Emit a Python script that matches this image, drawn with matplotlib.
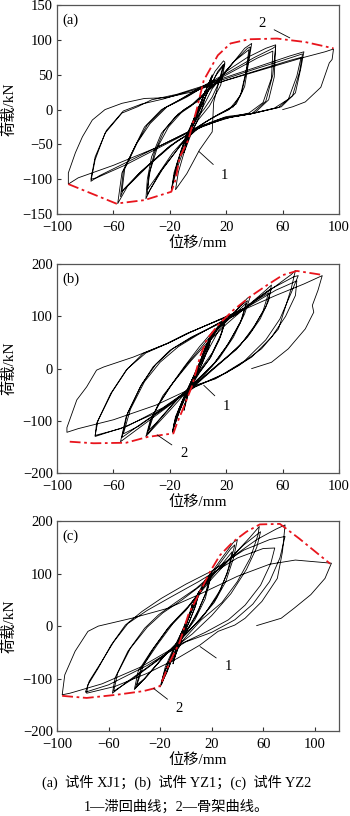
import numpy as np
import matplotlib.pyplot as plt

plt.rcParams['font.family'] = ['Liberation Serif', 'Noto Sans CJK SC']
plt.rcParams['axes.unicode_minus'] = True

# ---- (a) XJ1 : hysteresis path (disp mm, load kN)
a_path = [
    (0, 0), (3, 15), (5, 27), (3, 14), (0, 2), (-3, -14), (-5, -30), (-3, -16), (0, 0),
    (4, 20), (8, 40), (10, 50), (8, 32), (4, 12), (0, -6), (-5, -30), (-9, -55), (-10, -62), (-8, -42), (-4, -18), (0, 2),
    (5, 24), (9, 45), (10, 48), (7, 26), (2, 6), (-4, -22), (-9, -52), (-10, -58), (-7, -35), (-2, -8), (0, 0),
    (6, 30), (12, 55), (18, 70), (19, 68), (15, 40), (10, 18), (4, 0), (-4, -18), (-10, -45), (-17, -95), (-19, -117),
    (-17, -90), (-12, -58), (-6, -28), (0, -4),
    (8, 30), (14, 55), (18, 65), (15, 42), (11, 10), (10, -32), (1, -58), (-8, -92), (-16, -115),
    (-14, -90), (-10, -62), (-4, -30), (2, -5),
    (6, 25), (13, 50), (19, 66), (16, 35), (8, 5), (0, -15), (-8, -45), (-15, -85), (-18, -108),
    (-15, -78), (-8, -40), (0, -10),
    (10, 30), (25, 68), (33, 88), (38, 95), (36, 70), (33, 33), (27, 8), (18, -3), (5, -18), (-10, -45),
    (-25, -85), (-34, -115), (-37, -128), (-36, -100), (-33, -68), (-26, -34), (-16, -10), (-5, 5),
    (10, 32), (25, 68), (35, 88), (37, 90), (35, 62), (31, 25), (25, 4), (15, -6), (2, -22), (-12, -50),
    (-27, -90), (-36, -122), (-35, -95), (-31, -62), (-24, -30), (-14, -6), (-4, 8),
    (12, 38), (26, 70), (36, 86), (34, 55), (30, 20), (22, 0), (10, -12), (-3, -28), (-18, -62),
    (-30, -98), (-36, -115), (-34, -88), (-29, -55), (-21, -25), (-10, 0), (0, 12),
    (20, 55), (35, 75), (48, 88), (55, 93), (54, 47), (50, 14), (40, -5), (25, -10), (5, -22), (-15, -45),
    (-35, -80), (-50, -110), (-57, -135), (-54, -91), (-45, -54), (-38, -25), (-26, 0), (-14, 13), (0, 30),
    (20, 52), (40, 75), (53, 88), (55, 91), (53, 50), (48, 12), (38, -6), (20, -12), (0, -27), (-20, -52),
    (-40, -88), (-53, -115), (-55, -125), (-53, -88), (-44, -50), (-36, -22), (-24, 2), (-12, 15), (2, 30),
    (22, 52), (42, 74), (53, 84), (52, 45), (46, 10), (36, -5), (18, -13), (-2, -28), (-22, -56),
    (-42, -92), (-54, -118), (-52, -85), (-43, -47), (-34, -20), (-22, 4), (-8, 18),
    (10, 40), (40, 60), (65, 77), (75, 83), (73, 61), (69, 24), (59, 4), (40, -5), (20, -10), (0, -25),
    (-25, -50), (-50, -75), (-70, -95), (-76, -103), (-73, -72), (-66, -34), (-54, -5), (-43, 4), (-33, 14), (-15, 22),
    (10, 38), (40, 58), (65, 74), (74, 80), (72, 55), (67, 20), (57, 3), (38, -6), (18, -12), (-2, -28),
    (-28, -55), (-52, -80), (-72, -98), (-76, -100), (-73, -68), (-65, -30), (-53, -2), (-40, 8), (-25, 15),
    (10, 36), (40, 55), (64, 70), (73, 75), (70, 48), (64, 15), (54, 2), (35, -7), (15, -14), (-5, -30),
    (-30, -55), (-60, -80), (-85, -98), (-92, -107), (-92, -91), (-87, -62), (-82, -39), (-75, -15), (-66, 0),
    (-54, 9), (-38, 16), (-23, 17), (-5, 25), (20, 42), (50, 60), (75, 75), (90, 83), (96, 87),
    (95, 72), (93, 67), (87, 32), (76, 11), (67, 4), (60, 0),
]
a_skel = [(-92, -107), (-58, -135), (-38, -130), (-19, -118), (-16, -101), (-13, -68), (-7, -44),
          (-1, 0), (4, 42), (14, 78), (23, 95), (36, 101), (56, 102), (76, 97), (96, 88)]

# ---- (b) YZ1
b_path = [
    (0, 0), (3, 25), (5, 40), (3, 20), (0, 0), (-3, -20), (-5, -38), (-3, -18), (0, 0),
    (5, 40), (10, 70), (8, 45), (3, 10), (-3, -20), (-8, -55), (-10, -75), (-7, -45), (-3, -15), (0, 5),
    (5, 38), (10, 68), (7, 38), (2, 5), (-4, -28), (-9, -65), (-10, -80), (-7, -48), (-2, -12), (1, 10),
    (8, 55), (15, 85), (20, 100), (17, 70), (10, 30), (2, 0), (-5, -30), (-12, -70), (-17, -105), (-18, -122),
    (-16, -95), (-11, -60), (-5, -25), (0, 5),
    (8, 52), (15, 82), (20, 98), (16, 62), (9, 22), (1, -8), (-6, -38), (-13, -80), (-18, -118),
    (-16, -92), (-10, -55), (-4, -20), (2, 12),
    (9, 55), (16, 83), (19, 92), (15, 55), (8, 18), (0, -10), (-8, -45), (-14, -88), (-17, -112),
    (-14, -80), (-8, -42), (-2, -8), (4, 20),
    (15, 75), (25, 105), (35, 135), (37, 138), (33, 105), (25, 60), (15, 20), (5, -10), (-5, -35), (-20, -80),
    (-32, -115), (-37, -130), (-34, -100), (-29, -73), (-20, -35), (-10, 3), (1, 42), (10, 70),
    (20, 92), (30, 120), (35, 130), (31, 95), (22, 50), (12, 12), (0, -20), (-15, -60), (-28, -100),
    (-36, -125), (-33, -95), (-27, -65), (-18, -28), (-8, 8), (2, 40), (12, 72),
    (22, 95), (34, 125), (30, 88), (20, 42), (10, 5), (-2, -25), (-18, -68), (-30, -105), (-35, -118),
    (-31, -85), (-25, -52), (-15, -18), (-5, 15), (5, 45),
    (20, 85), (35, 120), (48, 150), (52, 160), (50, 130), (44, 95), (35, 60), (22, 25), (8, -8), (-2, -32),
    (-20, -70), (-40, -110), (-55, -140), (-51, -92), (-41, -35), (-32, 3), (-20, 35), (-5, 60), (10, 80),
    (25, 100), (40, 130), (52, 153), (48, 118), (40, 82), (30, 45), (15, 10), (0, -25), (-20, -68),
    (-40, -105), (-54, -132), (-50, -85), (-40, -30), (-30, 8), (-18, 38), (-3, 62), (12, 82),
    (28, 105), (42, 132), (50, 145), (46, 110), (38, 72), (27, 36), (12, 3), (-2, -30), (-22, -72),
    (-42, -110), (-53, -125), (-48, -78), (-38, -25), (-27, 12), (-14, 42), (0, 65), (15, 88),
    (35, 120), (55, 158), (66, 180), (69, 188), (66, 153), (57, 76), (45, 38), (29, 6), (12, -20), (-2, -32),
    (-25, -75), (-50, -110), (-73, -130), (-72, -105), (-62, -48), (-51, -3), (-39, 29), (-22, 48), (-8, 67), (6, 83),
    (30, 110), (50, 150), (68, 176), (71, 178), (66, 145), (58, 95), (48, 55), (33, 15), (15, -15), (-2, -35),
    (-30, -85), (-55, -115), (-73, -128), (-71, -100), (-61, -45), (-50, 0), (-37, 30), (-20, 50), (-5, 70), (10, 88),
    (35, 118), (55, 150), (70, 168), (69, 140), (62, 100), (52, 60), (38, 22), (20, -8), (0, -32),
    (-30, -70), (-60, -98), (-85, -115), (-93, -122), (-93, -113), (-86, -60), (-79, -35), (-72, -3), (-67, 3),
    (-46, 22), (-22, 48), (-8, 67), (6, 83), (30, 110), (55, 140), (75, 162), (88, 178),
    (85, 150), (81, 121), (82, 108), (76, 76), (64, 38), (52, 12), (38, 0),
]
b_skel = [(-91, -140), (-74, -143), (-51, -142), (-36, -131), (-17.5, -124), (-15, -105), (-11.6, -83),
          (-4.5, -35), (1.4, 23), (6, 55), (14, 83), (25, 112), (37, 138), (49, 160), (60, 179),
          (70, 187), (89, 179)]

# ---- (c) YZ2
c_path = [
    (0, 0), (3, 25), (5, 42), (3, 20), (0, 0), (-3, -22), (-5, -40), (-3, -18), (0, 0),
    (5, 38), (10, 66), (8, 42), (3, 10), (-3, -22), (-8, -55), (-10, -72), (-7, -42), (-3, -12), (0, 5),
    (6, 42), (10, 62), (7, 35), (2, 5), (-4, -28), (-9, -62), (-10, -68), (-7, -38), (-2, -8), (1, 10),
    (8, 55), (15, 88), (20, 103), (17, 72), (10, 32), (3, 0), (-5, -30), (-12, -68), (-18, -105), (-20, -116),
    (-17, -90), (-11, -55), (-5, -22), (0, 8),
    (9, 58), (16, 88), (19, 98), (15, 60), (8, 20), (0, -10), (-7, -42), (-14, -82), (-19, -112),
    (-16, -85), (-10, -50), (-4, -16), (2, 15),
    (10, 62), (17, 88), (20, 100), (15, 52), (7, 12), (-1, -15), (-9, -52), (-15, -90), (-19, -108),
    (-16, -78), (-10, -45), (-3, -10), (4, 25),
    (15, 85), (28, 130), (37, 160), (40, 165), (37, 130), (31, 85), (22, 45), (10, 10), (-2, -20), (-18, -60),
    (-32, -100), (-40, -121), (-37, -86), (-27, -48), (-14, -4), (0, 30), (12, 70),
    (25, 115), (35, 148), (38, 155), (34, 115), (27, 70), (16, 28), (3, -8), (-15, -52), (-30, -95),
    (-39, -118), (-35, -82), (-25, -42), (-12, 2), (2, 38), (15, 78),
    (26, 112), (36, 142), (32, 100), (24, 55), (13, 18), (0, -15), (-17, -58), (-32, -100), (-38, -112),
    (-33, -75), (-22, -35), (-10, 5), (5, 45),
    (20, 90), (35, 130), (50, 170), (57, 190), (56, 174), (50, 130), (40, 85), (28, 45), (12, 12), (-3, -29),
    (-25, -70), (-45, -105), (-57, -128), (-55, -99), (-45, -48), (-32, -4), (-21, 22), (-8, 45), (8, 72),
    (28, 115), (45, 155), (58, 180), (55, 150), (47, 108), (35, 62), (20, 20), (5, -15), (-20, -62),
    (-42, -102), (-56, -124), (-53, -90), (-43, -42), (-30, -2), (-18, 25), (-3, 50), (12, 78),
    (35, 130), (55, 165), (70, 185), (77, 193), (75, 142), (71, 91), (59, 47), (46, 15), (38, 2), (25, -10),
    (11, -36), (-7, -62), (-30, -90), (-55, -115), (-77, -128), (-76, -112), (-68, -80), (-58, -36), (-47, 2),
    (-34, 28), (-19, 53), (0, 80), (20, 105),
    (45, 145), (65, 165), (77, 171), (73, 130), (65, 85), (52, 42), (38, 12), (20, -12), (0, -30),
    (-30, -75), (-60, -112), (-78, -126), (-75, -105), (-66, -70), (-56, -30), (-45, 5), (-30, 30), (-12, 55), (10, 85),
    (40, 130), (60, 148), (69, 149), (66, 120), (58, 78), (46, 40), (33, 12), (15, -12), (-5, -35),
    (-35, -78), (-65, -110), (-90, -128), (-96, -131), (-94, -93), (-86, -48), (-76, -10), (-68, 0),
    (-42, 15), (-14, 34), (10, 60), (40, 95), (65, 118), (85, 126), (113, 120),
    (108, 91), (97, 60), (84, 34), (74, 15), (55, 1),
]
c_skel = [(-96, -133), (-77, -137), (-54, -131), (-33, -124), (-25, -119), (-20, -114), (-17.6, -100),
          (-12.4, -68), (-4.7, -30), (1.8, 21), (10.9, 65), (18.6, 103), (26.4, 135), (36.7, 161),
          (47, 180), (57.4, 194), (73, 195), (88, 167), (112, 119)]

panels = [
    dict(tag='(a)', path=a_path, skel=a_skel, xlim=(-100, 100), ylim=(-150, 150),
         yticks=[-150, -100, -50, 0, 50, 100, 150], rect=[0.163, 0.7377, 0.806, 0.256],
         lab1=((19, -94), (0.5, -60)), lab2=((45, 124), (65, 103))),
    dict(tag='(b)', path=b_path, skel=b_skel, xlim=(-100, 100), ylim=(-200, 200),
         yticks=[-200, -100, 0, 100, 200], rect=[0.163, 0.4203, 0.806, 0.256],
         lab1=((20, -73), (4, -32)), lab2=((-10, -162), (-29, -127))),
    dict(tag='(c)', path=c_path, skel=c_skel, xlim=(-100, 119), ylim=(-200, 200),
         yticks=[-200, -100, 0, 100, 200], rect=[0.163, 0.1042, 0.806, 0.257],
         lab1=((33, -77), (11, -39)), lab2=((-5, -157), (-25, -119))),
]
xticks = [-100, -60, -20, 20, 60, 100]

fig = plt.figure(figsize=(3.5, 8.16), dpi=100)
for p in panels:
    ax = fig.add_axes(p['rect'])
    d = np.array(p['path'])
    ax.plot(d[:, 0], d[:, 1], color='black', lw=0.6)
    s = np.array(p['skel'])
    ax.plot(s[:, 0], s[:, 1], color='#e8141c', lw=1.3, linestyle=(0, (6, 2, 1.5, 2)))
    ax.set_xlim(*p['xlim'])
    ax.set_ylim(*p['ylim'])
    ax.set_xticks(xticks)
    ax.set_yticks(p['yticks'])
    ax.tick_params(direction='in', length=3, labelsize=10.5, colors='#333333')
    ax.tick_params(axis='x', pad=5)
    ax.tick_params(axis='y', pad=3)
    ax.tick_params(labelcolor='black')
    for sp in ax.spines.values():
        sp.set_color('#555555')
        sp.set_linewidth(0.9)
    ax.set_xlabel('位移/mm', fontsize=11)
    ax.set_ylabel('荷载/kN', fontsize=11)
    ax.xaxis.set_label_coords(0.5, -0.105)
    ax.yaxis.set_label_coords(-0.145, 0.5)
    ax.text(0.02, 0.96, p['tag'], transform=ax.transAxes, fontsize=10.5, va='top', ha='left')
    (t1, e1), (t2, e2) = p['lab1'], p['lab2']
    ax.annotate('1', xy=e1, xytext=t1, fontsize=10.5, ha='center', va='center',
                arrowprops=dict(arrowstyle='-', color='black', lw=0.6, shrinkA=5, shrinkB=0))
    ax.annotate('2', xy=e2, xytext=t2, fontsize=10.5, ha='center', va='center',
                arrowprops=dict(arrowstyle='-', color='black', lw=0.6, shrinkA=5, shrinkB=0))

y1 = 1 - 782 / 816
fig.text(0.505, y1, '(a)  试件 XJ1；(b)  试件 YZ1；(c)  试件 YZ2', ha='center', va='center',
         fontsize=10.3)
fig.text(0.505, 1 - 807 / 816, '1—滞回曲线；2—骨架曲线。', ha='center', va='center', fontsize=10.3)

fig.savefig('out.png', dpi=100)
